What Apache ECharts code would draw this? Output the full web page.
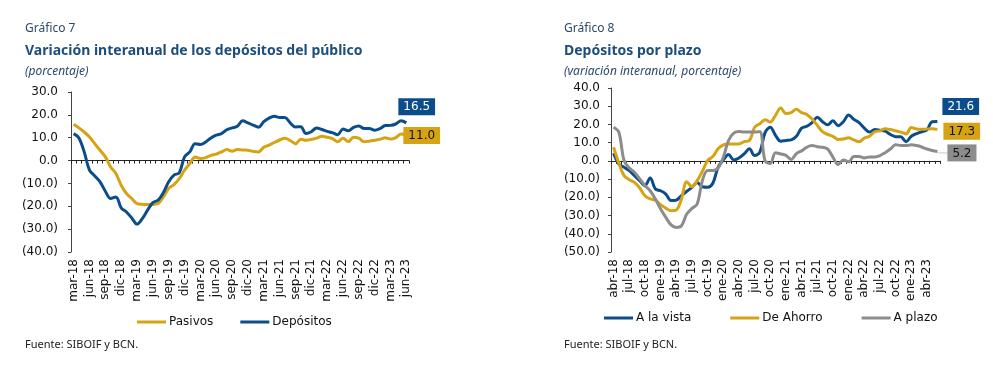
<!DOCTYPE html>
<html>
<head>
<meta charset="utf-8">
<script src="https://cdn.jsdelivr.net/npm/echarts@6/dist/echarts.min.js"></script>
<style>
html,body{margin:0;padding:0;background:#fff;}
#c{width:993px;height:370px;}
</style>
</head>
<body>
<div id="c"></div>
<script>
// ---------- Gráfico 7 ----------
const months7 = ['mar-18','abr-18','may-18','jun-18','jul-18','ago-18','sep-18','oct-18','nov-18','dic-18',
'ene-19','feb-19','mar-19','abr-19','may-19','jun-19','jul-19','ago-19','sep-19','oct-19','nov-19','dic-19',
'ene-20','feb-20','mar-20','abr-20','may-20','jun-20','jul-20','ago-20','sep-20','oct-20','nov-20','dic-20',
'ene-21','feb-21','mar-21','abr-21','may-21','jun-21','jul-21','ago-21','sep-21','oct-21','nov-21','dic-21',
'ene-22','feb-22','mar-22','abr-22','may-22','jun-22','jul-22','ago-22','sep-22','oct-22','nov-22','dic-22',
'ene-23','feb-23','mar-23','abr-23','may-23','jun-23'];
const pasivos = [15.9,14.3,12.5,10.3,7.4,4.5,1.6,-2.8,-5.7,-10.8,-14.4,-16.6,-18.8,-19.1,-19.2,-19.2,-18.8,-15.9,-12.2,-10.5,
-7.9,-4.2,-1.3,1.6,0.9,1.3,2.3,2.8,3.8,4.8,4.1,4.8,4.6,4.5,4.0,3.8,5.8,6.8,7.9,9.0,
9.8,8.8,7.4,9.3,8.9,9.2,9.8,10.6,10.2,9.6,8.2,9.8,8.3,10.2,9.8,8.2,8.5,8.9,9.3,10.0,
9.4,10.0,11.6,11.0];
const depositos = [11.8,9.9,3.8,-4.2,-6.7,-9.3,-13.4,-16.6,-15.9,-20.7,-22.5,-25.1,-27.8,-25.4,-21.7,-18.4,-17.3,-14.0,-9.3,-6.4,
-5.3,1.6,3.8,7.4,7.0,8.1,9.9,11.1,11.8,13.5,14.3,15.0,17.4,16.5,15.5,14.6,17.0,18.6,19.4,18.8,
18.8,16.5,14.7,14.8,11.8,12.6,14.3,13.6,12.8,12.2,11.3,13.8,13.0,14.5,15.1,14.0,14.0,13.3,14.0,15.3,
15.4,16.0,17.4,16.5];

// ---------- Gráfico 8 ----------
const months8 = ['abr-18','may-18','jun-18','jul-18','ago-18','sep-18','oct-18','nov-18','dic-18',
'ene-19','feb-19','mar-19','abr-19','may-19','jun-19','jul-19','ago-19','sep-19','oct-19','nov-19','dic-19',
'ene-20','feb-20','mar-20','abr-20','may-20','jun-20','jul-20','ago-20','sep-20','oct-20','nov-20','dic-20',
'ene-21','feb-21','mar-21','abr-21','may-21','jun-21','jul-21','ago-21','sep-21','oct-21','nov-21','dic-21',
'ene-22','feb-22','mar-22','abr-22','may-22','jun-22','jul-22','ago-22','sep-22','oct-22','nov-22','dic-22',
'ene-23','feb-23','mar-23','abr-23','may-23','jun-23'];
const aLaVista = [4.2,-1.7,-3.5,-5.3,-8.1,-10.9,-13.6,-9.4,-15.4,-16.4,-18.2,-21.8,-21.5,-19.1,-16.7,-14.5,-11.8,-14.2,-14.5,-12.3,
-3.5,0.5,3.5,0.5,1.6,3.8,6.6,2.9,4.8,15.5,18.5,14.0,10.8,11.2,11.5,13.5,18.0,19.0,21.0,24.0,
21.5,19.8,22.0,19.3,21.5,25.2,22.8,21.0,18.0,15.8,17.2,16.8,16.3,14.5,13.3,13.2,10.5,13.5,15.0,16.0,
17.0,21.5,21.6];
const deAhorro = [7.5,-1.3,-8.1,-10.3,-11.8,-14.9,-19.1,-20.9,-21.5,-24.1,-25.9,-27.4,-27.0,-20.9,-11.4,-14.2,-10.8,-5.7,0.2,2.4,
6.6,8.8,9.3,9.3,9.3,10.6,11.2,18.5,20.4,22.6,21.3,25.0,29.0,26.0,26.5,28.3,26.5,25.5,23.0,19.5,
16.0,14.5,13.5,11.8,12.0,12.7,11.5,10.5,12.5,13.5,16.0,16.5,17.6,17.2,16.5,15.8,14.8,18.3,17.5,17.3,
17.5,17.6,17.3];
const aPlazo = [18.5,15.8,0.2,-3.9,-6.2,-9.9,-13.6,-16.4,-20.9,-26.4,-31.0,-35.1,-36.5,-35.6,-29.2,-26.1,-23.7,-10.8,-5.3,-5.3,
-3.9,2.0,11.2,15.2,16.1,15.8,15.8,15.8,16.0,0.0,-1.5,4.5,3.8,3.0,0.8,4.0,5.5,7.5,8.4,7.8,
7.5,6.5,2.0,-2.0,0.5,-0.5,2.4,2.4,1.6,2.2,2.2,2.9,4.5,6.5,8.8,8.5,8.4,8.8,8.4,7.6,
6.5,5.7,5.2];

const BLUE = '#0b4c8a', GOLD = '#d6a313', GRAY = '#8c8c8c';
const AXF = 'DejaVu Sans';

function fmtY(v){ return v < 0 ? '(' + Math.abs(v).toFixed(1) + ')' : v.toFixed(1); }

function xAxesFor(gridIndex, cats){
  return [
    { type:'category', gridIndex, data:cats, position:'bottom', boundaryGap:true,
      axisLine:{show:false, onZero:false}, axisTick:{show:false},
      axisLabel:{interval:2, rotate:90, margin:7, fontFamily:AXF, fontSize:12, color:'#111'} },
    { type:'category', gridIndex, data:cats, position:'bottom', boundaryGap:true,
      axisLine:{show:true, onZero:true, lineStyle:{color:'#222', width:1}},
      axisTick:{show:true, interval:0, length:3, lineStyle:{color:'#222'}},
      axisLabel:{show:false} }
  ];
}
function yAxisFor(gridIndex, min, max, margin){
  return { type:'value', gridIndex, min, max, interval:10,
    axisLine:{show:true, lineStyle:{color:'#444'}},
    axisTick:{show:true, length:3, lineStyle:{color:'#444'}},
    splitLine:{show:false},
    axisLabel:{formatter:fmtY, fontFamily:AXF, fontSize:12, color:'#111', margin} };
}
function endLbl(bg, fg, off, lead){
  return { show:true, distance:0, offset:off,
    formatter: p => (lead ? '{l|}' : '') + '{b|' + Number(p.value).toFixed(1) + '}',
    rich:{
      b:{backgroundColor:bg, color:fg, fontFamily:AXF, fontSize:12, padding:[3,5,2,5], lineHeight:14},
      l:{width:10, height:1, backgroundColor:'#c8c8c8', verticalAlign:'middle'}
    } };
}
function lineSeries(name, data, color, xi, yi, lbl){
  return { name, type:'line', data, xAxisIndex:xi, yAxisIndex:yi, smooth:0.35,
    showSymbol:false, symbol:'none', lineStyle:{color, width:3}, itemStyle:{color},
    emphasis:{disabled:true}, endLabel:lbl, animation:false };
}

const chart = echarts.init(document.getElementById('c'), null, {renderer:'canvas'});
const txt = (x, y, text, font, color) => ({type:'text', x, y,
  style:{text, font, fill:color, verticalAlign:'middle', align:'left'}});

chart.setOption({
  animation:false,
  backgroundColor:'#fff',
  graphic:[
    txt(25, 29, 'Gráfico 7', '12px "Noto Sans"', '#2c4a6a'),
    txt(25, 51, 'Variación interanual de los depósitos del público', 'bold 14px "Noto Sans"', '#1d4e7c'),
    txt(25, 72, '(porcentaje)', 'italic 12px "Noto Sans"', '#2c4a6a'),
    txt(25, 345, 'Fuente: SIBOIF y BCN.', '11px "Noto Sans"', '#222'),
    txt(564, 29, 'Gráfico 8', '12px "Noto Sans"', '#2c4a6a'),
    txt(564, 51, 'Depósitos por plazo', 'bold 14px "Noto Sans"', '#1d4e7c'),
    txt(564, 72, '(variación interanual, porcentaje)', 'italic 12px "Noto Sans"', '#2c4a6a'),
    txt(564, 345, 'Fuente: SIBOIF y BCN.', '11px "Noto Sans"', '#222')
  ],
  grid:[
    {left:71, top:92, width:338, height:160},
    {left:611, top:88, width:329, height:164}
  ],
  xAxis:[...xAxesFor(0, months7), ...xAxesFor(1, months8)],
  yAxis:[yAxisFor(0,-40,30,13), yAxisFor(1,-50,40,11)],
  legend:[
    {left:137, top:316, padding:0, data:['Pasivos','Depósitos'], icon:'rect', itemWidth:29, itemHeight:3, itemGap:27,
     textStyle:{fontFamily:AXF, fontSize:12, color:'#111', padding:[0,0,0,-2]}, selectedMode:false},
    {left:604, top:312, padding:0, data:['A la vista','De Ahorro','A plazo'], icon:'rect', itemWidth:29, itemHeight:3, itemGap:39,
     textStyle:{fontFamily:AXF, fontSize:12, color:'#111', padding:[0,0,0,-2]}, selectedMode:false}
  ],
  series:[
    lineSeries('Pasivos', pasivos, GOLD, 0, 0, endLbl(GOLD, '#111', [-3, 0])),
    lineSeries('Depósitos', depositos, BLUE, 0, 0, endLbl(BLUE, '#fff', [-8, -16])),
    lineSeries('A la vista', aLaVista, BLUE, 2, 1, endLbl(BLUE, '#fff', [5, -15])),
    lineSeries('De Ahorro', deAhorro, GOLD, 2, 1, endLbl(GOLD, '#111', [6, 2])),
    lineSeries('A plazo', aPlazo, GRAY, 2, 1, endLbl(GRAY, '#111', [0, 1.5], true))
  ]
});
</script>
</body>
</html>
